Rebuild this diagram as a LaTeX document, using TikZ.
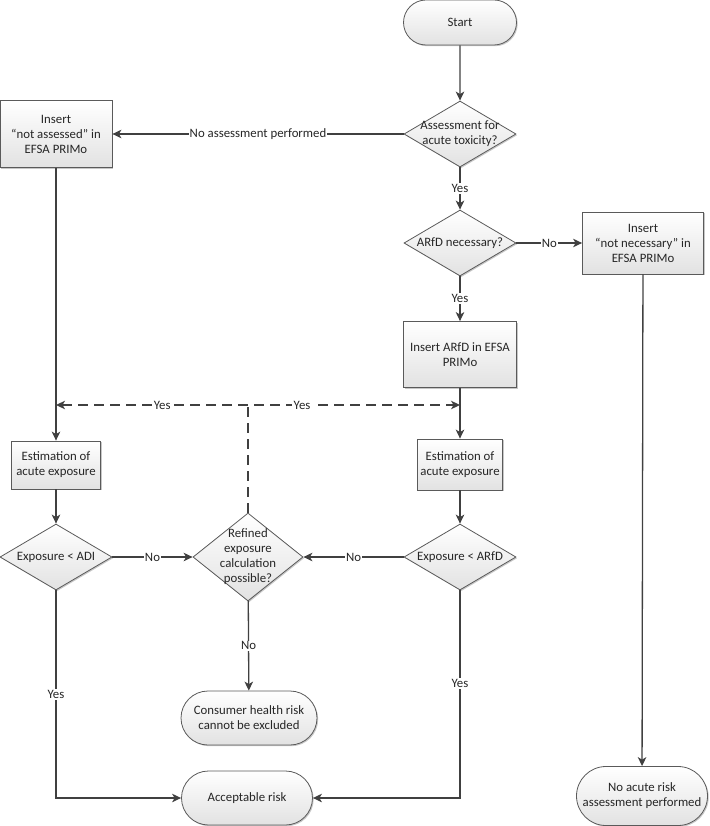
\documentclass[tikz,border=0pt]{standalone}
\usepackage{fontspec}
\setmainfont{Carlito}
\usetikzlibrary{shapes.geometric,shapes.misc,arrows.meta,shadows}
\definecolor{ln}{HTML}{404040}
\definecolor{bd}{HTML}{5A5A5A}
\definecolor{fillbot}{HTML}{E2E2E2}
\definecolor{txt}{HTML}{262626}
\tikzset{
  fnt/.style={font=\fontsize{12.8}{15}\selectfont, text=txt},
  base/.style={draw=bd, line width=0.8pt, top color=white, bottom color=fillbot,
    fnt, align=center, inner sep=0pt,
    drop shadow={shadow xshift=1.2pt, shadow yshift=-1.2pt, opacity=0.22, fill=black}},
  box/.style={base, rectangle},
  term/.style={base, rounded rectangle},
  dec/.style={base, diamond},
  dlab/.style={fnt, align=center, inner sep=0pt},
  conn/.style={draw=ln, line width=1.3pt, -{Stealth[length=9pt,width=8.5pt,inset=2.5pt]}},
  plain/.style={draw=ln, line width=1.3pt},
  dashconn/.style={draw=ln, line width=1.3pt, dash pattern=on 10pt off 6pt,
    {Stealth[length=9pt,width=8.5pt,inset=2.5pt]}-{Stealth[length=9pt,width=8.5pt,inset=2.5pt]}},
  lab/.style={fnt, fill=white, inner sep=1.2pt},
}
\begin{document}
\begin{tikzpicture}[x=1pt,y=-1pt]
\useasboundingbox (0,0) rectangle (709,826);

% nodes
\node[term, minimum width=113pt, minimum height=45pt] (start) at (460,22.5) {Start};
\node[dec, minimum width=112pt, minimum height=66pt,
  label={[dlab]center:Assessment for\\acute toxicity?}] (d1) at (460,134) {};
\node[box, minimum width=112pt, minimum height=67pt] (na) at (56,134)
  {Insert\\“not assessed” in\\EFSA PRIMo};
\node[dec, minimum width=112pt, minimum height=66pt,
  label={[dlab]center:ARfD necessary?}] (d2) at (460,243) {};
\node[box, minimum width=121pt, minimum height=62pt] (nn) at (643,243)
  {Insert\\“not necessary” in\\EFSA PRIMo};
\node[box, minimum width=113pt, minimum height=66pt] (ia) at (460,354.5)
  {Insert ARfD in EFSA\\PRIMo};
\node[box, minimum width=89pt, minimum height=48pt] (el) at (56,465)
  {Estimation of\\acute exposure};
\node[box, minimum width=85pt, minimum height=51pt] (er) at (460,464.5)
  {Estimation of\\acute exposure};
\node[dec, minimum width=112pt, minimum height=66pt,
  label={[dlab]center:Exposure < ADI}] (dadi) at (56,557) {};
\node[dec, minimum width=110pt, minimum height=88pt,
  label={[dlab]center:Refined\\exposure\\calculation\\possible?}] (dref) at (248,557) {};
\node[dec, minimum width=112pt, minimum height=66pt,
  label={[dlab]center:Exposure < ARfD}] (darfd) at (460,557) {};
\node[term, minimum width=136pt, minimum height=54pt] (cons) at (249,718)
  {Consumer health risk\\cannot be excluded};
\node[term, minimum width=131pt, minimum height=54pt] (acc) at (247,798)
  {Acceptable risk};
\node[term, minimum width=131pt, minimum height=59pt] (noac) at (642,796)
  {No acute risk\\assessment performed};

\coordinate (dl) at (56,405);
\coordinate (dr) at (460,405);
\coordinate (dj) at (248,405);

% connectors
\draw[conn] (start) -- (d1);
\draw[conn] (d1.west) -- node[lab]{No assessment performed} (na.east);
\draw[conn] (d1) -- node[lab]{Yes} (d2);
\draw[conn] (d2.east) -- node[lab]{No} (nn.west);
\draw[conn] (d2) -- node[lab]{Yes} (ia);
\draw[conn] (na) -- (el);
\draw[conn] (ia) -- (er);
\draw[conn] (el) -- (dadi);
\draw[conn] (er) -- (darfd);
\draw[conn] (dadi.east) -- node[lab]{No} (dref.west);
\draw[conn] (darfd.west) -- node[lab]{No} (dref.east);
\draw[conn] (dref) -- node[lab]{No} (cons);
\draw[conn] (dadi.south) |- node[lab,pos=0.25]{Yes} (acc.west);
\draw[conn] (darfd.south) |- node[lab,pos=0.2235]{Yes} (acc.east);
\draw[conn] (nn) -- (noac);

\draw[plain, dash pattern=on 10pt off 6pt] (dref.north) -- (dj);
\draw[dashconn] (dl) -- node[lab,pos=0.263]{Yes} node[lab,pos=0.609]{Yes} (dr);
\end{tikzpicture}
\end{document}
